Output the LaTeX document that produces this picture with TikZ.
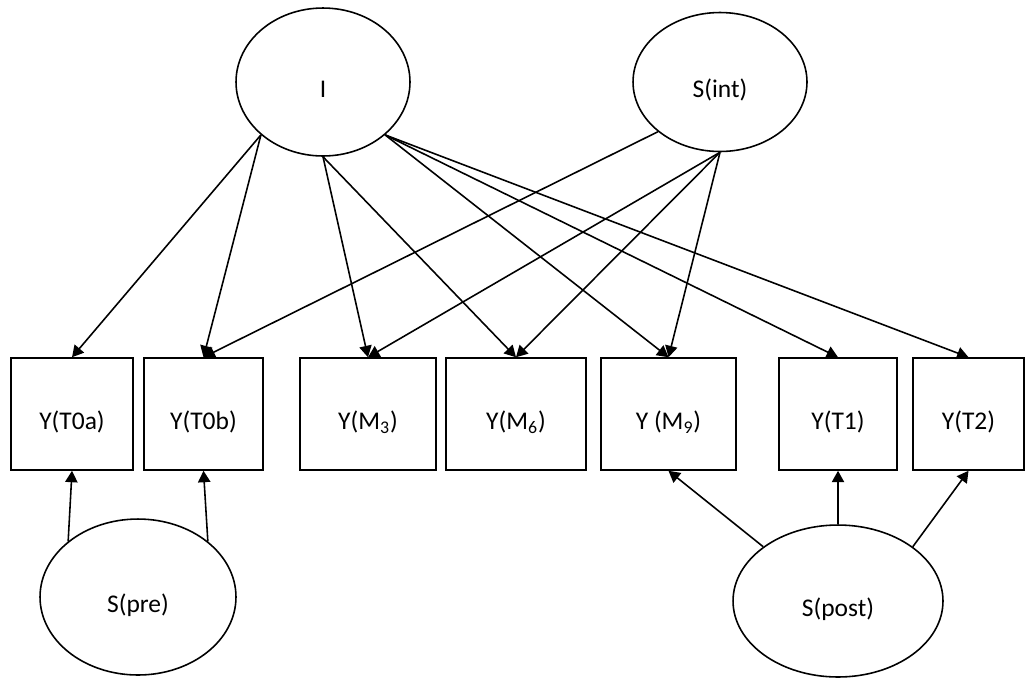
\documentclass[tikz,border=0pt]{standalone}
\usepackage{fontspec}
\setmainfont{Carlito}
\usetikzlibrary{shapes.geometric,arrows.meta}
\tikzset{
  lat/.style={draw,ellipse,line width=0.9pt,inner sep=0pt,text height=19pt,text depth=1pt},
  obs/.style={draw,rectangle,line width=0.9pt,inner sep=0pt,minimum height=2.24cm,text height=19pt,text depth=1pt},
  path/.style={draw,->,line width=0.9pt}
}
\begin{document}
\begin{tikzpicture}[x=0.02cm,y=-0.02cm,>={Triangle[length=6.5pt,width=7pt]},font=\fontsize{14.5}{17}\selectfont]
\useasboundingbox (0,0) rectangle (1026,677);
\node[lat,minimum width=3.48cm,minimum height=2.96cm] (I) at (323,82) {I};
\node[lat,minimum width=3.48cm,minimum height=2.78cm] (Sint) at (720,82) {S(int)};
\node[lat,minimum width=3.92cm,minimum height=3.12cm] (Spre) at (138,597) {S(pre)};
\node[lat,minimum width=4.20cm,minimum height=3.04cm] (Spost) at (838,601) {S(post)};
\node[obs,minimum width=2.44cm] (T0a) at (72,414) {Y(T0a)};
\node[obs,minimum width=2.38cm] (T0b) at (203.5,414) {Y(T0b)};
\node[obs,minimum width=2.72cm] (M3) at (368,414) {Y(M\textsubscript{3})};
\node[obs,minimum width=2.80cm] (M6) at (516,414) {Y(M\textsubscript{6})};
\node[obs,minimum width=2.70cm] (M9) at (668.5,414) {Y (M\textsubscript{9})};
\node[obs,minimum width=2.36cm] (T1) at (838,414) {Y(T1)};
\node[obs,minimum width=2.22cm] (T2) at (968.5,414) {Y(T2)};
\path[path] (I.south west) -- (T0a.north);
\path[path] (I.south west) -- (T0b.north);
\path[path] (I.south) -- (M3.north);
\path[path] (I.south) -- (M6.north);
\path[path] (I.south east) -- (M9.north);
\path[path] (I.south east) -- (T1.north);
\path[path] (I.south east) -- (T2.north);
\path[path] (Sint.south west) -- (T0b.north);
\path[path] (Sint.south) -- (M3.north);
\path[path] (Sint.south) -- (M6.north);
\path[path] (Sint.south) -- (M9.north);
\path[path] (Spre.north west) -- (T0a.south);
\path[path] (Spre.north east) -- (T0b.south);
\path[path] (Spost.north west) -- (M9.south);
\path[path] (Spost.north) -- (T1.south);
\path[path] (Spost.north east) -- (T2.south);
\end{tikzpicture}
\end{document}
